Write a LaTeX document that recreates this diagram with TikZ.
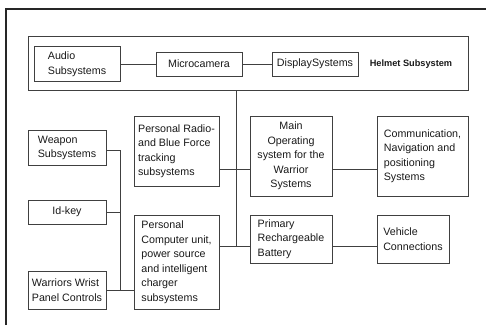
\documentclass[tikz,border=0pt]{standalone}
\usepackage{fontspec}
\setmainfont{Liberation Sans}
\usepackage{tikz}
\usetikzlibrary{positioning}

\begin{document}
\begin{tikzpicture}[
    x=1pt, y=-1pt,
    unit/.style={rectangle, draw=black!75, line width=0.9pt, text=black!90, inner sep=2pt, align=left, font=\fontsize{10.7}{14.5}\selectfont},
    group/.style={rectangle, draw=black!75, line width=0.9pt, minimum width=440pt, minimum height=54pt},
    link/.style={draw=black!75, line width=0.9pt},
    frame/.style={draw=black!85, line width=2pt}
]
\useasboundingbox (0,0) rectangle (486,325);
\draw [frame] (6,325) -- (6,9) -- (486,9);
\node (helmet) [group] at (248,63) {};
\node (audio) [unit, minimum width=86pt, minimum height=35pt] at (77,64) {Audio\\Subsystems};
\node (micro) [unit, minimum width=86pt, minimum height=24pt] at (199,64) {Microcamera};
\node (display) [unit, minimum width=86pt, minimum height=24pt] at (315,64) {DisplaySystems};
\node (helmettitle) [text=black!90, font=\fontsize{9.2}{11}\selectfont\bfseries] at (411,64) {Helmet Subsystem};
\node (weapon) [unit, minimum width=78pt, minimum height=35pt] at (67,148) {Weapon\\Subsystems};
\node (idkey) [unit, minimum width=78pt, minimum height=24pt, align=center] at (67,212) {Id-key};
\node (wrist) [unit, minimum width=78pt, minimum height=38pt] at (67,290) {Warriors Wrist\\Panel Controls};
\node (radio) [unit, minimum width=85pt, minimum height=70pt] at (176.5,151) {Personal Radio-\\and Blue Force\\tracking\\subsystems};
\node (pc) [unit, minimum width=85pt, minimum height=94pt] at (176.5,262) {Personal\\Computer unit,\\power source\\and intelligent\\charger\\subsystems};
\node (mainos) [unit, minimum width=82pt, minimum height=80pt, align=center] at (291,156) {Main\\Operating\\system for the\\Warrior\\Systems};
\node (comm) [unit, minimum width=91pt, minimum height=80pt] at (422.5,156) {Communication,\\Navigation and\\positioning\\Systems};
\node (battery) [unit, minimum width=82pt, minimum height=48pt] at (291,239) {Primary\\Rechargeable\\Battery};
\node (vehicle) [unit, minimum width=72pt, minimum height=48pt] at (413,239) {Vehicle\\Connections};
\coordinate (bus) at (120,150);
\coordinate (jr) at (236,169);
\coordinate (jp) at (236,246);
\draw [link] (audio) -- (micro);
\draw [link] (micro) -- (display);
\draw [link] (helmet.south -| jp) -- (jp);
\draw [link] (radio.east |- jr) -- (mainos.west |- jr);
\draw [link] (mainos.east |- jr) -- (comm.west |- jr);
\draw [link] (pc.east |- jp) -- (battery.west |- jp);
\draw [link] (battery.east |- jp) -- (vehicle.west |- jp);
\draw [link] (weapon.east |- bus) -- (bus) -- (bus |- wrist);
\draw [link] (idkey) -- (idkey -| bus);
\draw [link] (wrist) -- (pc.west |- wrist);
\end{tikzpicture}
\end{document}
